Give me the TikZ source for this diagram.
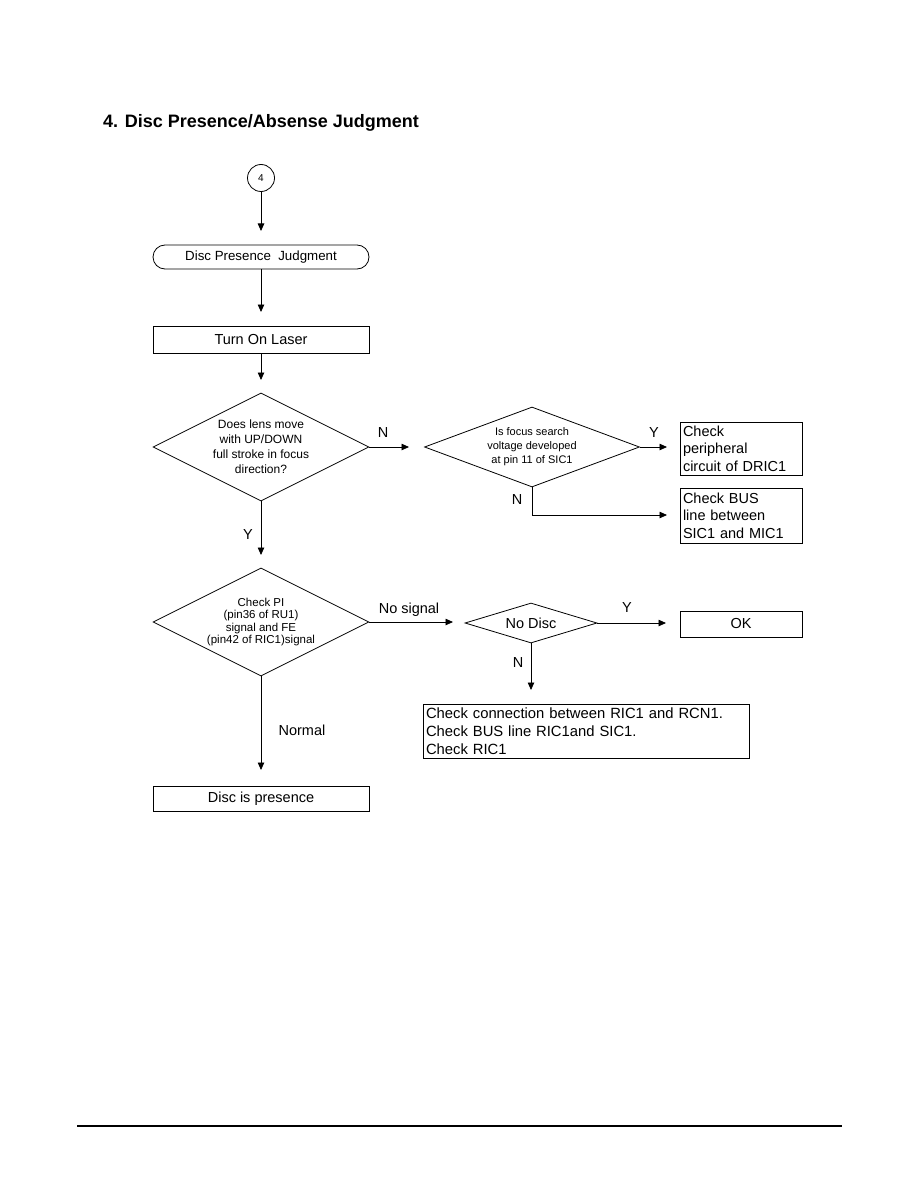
\documentclass[tikz,border=0pt]{standalone}
\usepackage{fontspec}
\setmainfont{Liberation Sans}
\usetikzlibrary{arrows.meta,shapes.geometric}
\tikzset{
  ln/.style={line width=0.8pt},
  arr/.style={ln,-{Triangle[length=7.5pt,width=6.5pt]}},
  box/.style={draw,ln,rectangle,inner sep=0pt,font=\fontsize{14.5}{18}\selectfont},
  tbox/.style={draw,ln,rectangle,inner xsep=3pt,inner ysep=0pt,align=left,font=\fontsize{14.5}{17.5}\selectfont},
  dia/.style={draw,ln,diamond,inner sep=-40pt,align=center},
  lbl/.style={inner sep=0pt,font=\fontsize{14.5}{17}\selectfont},
}
\begin{document}
\begin{tikzpicture}[x=1pt,y=-1pt]
\useasboundingbox (0,0) rectangle (918,1190);
\node[anchor=west,inner sep=0pt,font=\fontsize{18}{20}\selectfont\bfseries] (title) at (103,123) {4. Disc Presence/Absense Judgment};

\node[draw,ln,circle,minimum size=27pt,inner sep=0pt,font=\fontsize{10}{12}\selectfont] (c4) at (261,178) {4};
\node[box,minimum width=216pt,minimum height=24pt,rounded corners=12pt,font=\fontsize{13.3}{16}\selectfont] (start) at (261,257) {Disc Presence\ \ Judgment};
\node[box,minimum width=216pt,minimum height=27pt] (laser) at (261,339.5) {Turn On Laser};

\node[dia,shape aspect=2,minimum width=216pt,minimum height=108pt,font=\fontsize{12}{15}\selectfont] (d1) at (261,447) {Does lens move\\with UP/DOWN\\full stroke in focus\\direction?};
\node[dia,shape aspect=2.7,minimum width=215pt,minimum height=80pt,font=\fontsize{11}{14}\selectfont] (d2) at (532,447) {Is focus search\\voltage developed\\at pin 11 of SIC1};
\node[tbox,text width=116pt,minimum height=53pt] (peri) at (741,448.5) {Check\\peripheral\\circuit of DRIC1};
\node[tbox,text width=116pt,minimum height=55pt] (bus) at (741,515.5) {Check BUS\\line between\\SIC1 and MIC1};

\node[dia,shape aspect=2,minimum width=216pt,minimum height=108pt,font=\fontsize{11.5}{12.6}\selectfont] (d3) at (261,622) {Check PI\\(pin36 of RU1)\\signal and FE\\(pin42 of RIC1)signal};
\node[dia,shape aspect=3.3,minimum width=132pt,minimum height=40pt,font=\fontsize{14.5}{17}\selectfont] (d4) at (531,623) {No Disc};
\node[box,minimum width=122pt,minimum height=26pt] (ok) at (741,624) {OK};
\node[tbox,text width=320pt,minimum height=54pt,font=\fontsize{14.8}{18}\selectfont] (chk) at (586,731) {Check connection between RIC1 and RCN1.\\Check BUS line RIC1and SIC1.\\Check RIC1};
\node[box,minimum width=216pt,minimum height=25pt] (pres) at (261,798.5) {Disc is presence};

\coordinate (t1) at (261,231);
\coordinate (t2) at (261,312);
\coordinate (t3) at (261,380);
\coordinate (t4) at (409,447);
\coordinate (t5) at (261,555);
\coordinate (t6) at (667,447);
\coordinate (b2) at (532,515);
\coordinate (t7) at (667,515);
\coordinate (t8) at (453,622);
\coordinate (t9) at (666,623);
\coordinate (t10) at (531,690);
\coordinate (t11) at (261,770);

\draw[arr] (c4.south) -- (t1);
\draw[arr] (start.south) -- (t2);
\draw[arr] (laser.south) -- (t3);
\draw[arr] (d1.east) -- (t4);
\draw[arr] (d1.south) -- (t5);
\draw[arr] (d2.east) -- (t6);
\draw[arr] (d2.south) -- (b2) -- (t7);
\draw[arr] (d3.east) -- (t8);
\draw[arr] (d4.east) -- (t9);
\draw[arr] (d4.south) -- (t10);
\draw[arr] (d3.south) -- (t11);

\node[lbl] (lN1) at (383,433) {N};
\node[lbl] (lY1) at (248,535) {Y};
\node[lbl] (lY2) at (654,433) {Y};
\node[lbl] (lN2) at (517,500) {N};
\node[lbl] (lNS) at (409,610) {No signal};
\node[lbl] (lY3) at (627,608) {Y};
\node[lbl] (lN3) at (518,663) {N};
\node[lbl] (lNo) at (302,730) {Normal};

\draw[line width=1.2pt] (77,1126) -- (842,1126);
\end{tikzpicture}
\end{document}
